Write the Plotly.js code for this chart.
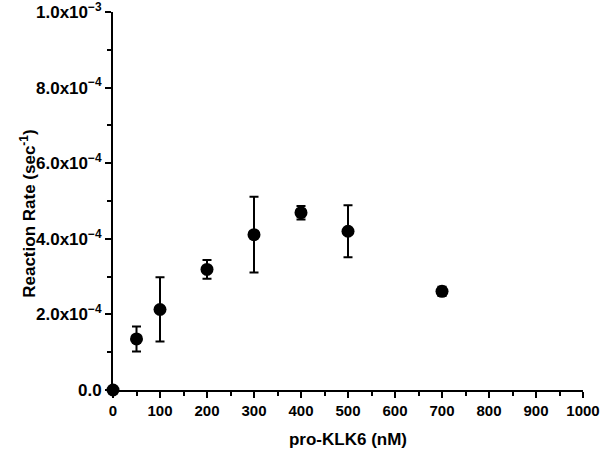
<!DOCTYPE html>
<html>
<head>
<meta charset="utf-8">
<script src="https://cdn.plot.ly/plotly-3.0.1.min.js"></script>
<style>html,body{margin:0;padding:0;background:#fff;}#chart{width:600px;height:449px;}</style>
</head>
<body>
<div id="chart"></div>
<script>
var concentration = [0, 50, 100, 200, 300, 400, 500, 700];
var reactionRate = [0, 1.35e-4, 2.13e-4, 3.19e-4, 4.11e-4, 4.69e-4, 4.20e-4, 2.61e-4];
var rateError = [0, 0.33e-4, 0.85e-4, 0.25e-4, 1.0e-4, 0.18e-4, 0.69e-4, 0.12e-4];
var yTickVals = [0, 2e-4, 4e-4, 6e-4, 8e-4, 1e-3];
var yTickMantissa = ['0.0', '2.0', '4.0', '6.0', '8.0', '1.0'];
var yTickExponent = ['', '\u22124', '\u22124', '\u22124', '\u22124', '\u22123'];
var xTickVals = [0, 100, 200, 300, 400, 500, 600, 700, 800, 900, 1000];
var xTitle = 'pro-KLK6 (nM)';
var yTitle = 'Reaction Rate (sec<sup>-1</sup>)';

var yTickText = yTickMantissa.map(function (m, i) {
  return yTickExponent[i] ? m + 'x10<sup>' + yTickExponent[i] + '</sup>' : m;
});

var trace = {
  x: concentration,
  y: reactionRate,
  type: 'scatter',
  mode: 'markers',
  marker: {color: '#000', size: 13},
  error_y: {type: 'data', array: rateError, visible: true, color: '#000', thickness: 2, width: 4.5},
  cliponaxis: false,
  showlegend: false
};

var fontFam = 'Liberation Sans, Arial, sans-serif';
var layout = {
  width: 600, height: 449,
  margin: {l: 113, r: 17, t: 12, b: 59},
  paper_bgcolor: '#fff', plot_bgcolor: '#fff',
  font: {family: fontFam, color: '#000'},
  xaxis: {
    range: [0, 1000],
    tickvals: xTickVals,
    ticks: 'outside', ticklen: 6, tickwidth: 2, tickcolor: '#000',
    minor: {dtick: 50, ticks: 'outside', ticklen: 4, tickwidth: 2, tickcolor: '#000'},
    showline: true, linecolor: '#000', linewidth: 2,
    showgrid: false, zeroline: false,
    ticklabeloverflow: 'allow',
    tickfont: {family: fontFam, size: 15, color: '#000', weight: 'bold'},
    title: {text: '<b>' + xTitle + '</b>', font: {family: fontFam, size: 17, color: '#000'}, standoff: 16}
  },
  yaxis: {
    range: [0, 1e-3],
    tickvals: yTickVals, ticktext: yTickText,
    ticks: 'outside', ticklen: 6, tickwidth: 2, tickcolor: '#000',
    minor: {dtick: 1e-4, ticks: 'outside', ticklen: 4, tickwidth: 2, tickcolor: '#000'},
    showline: true, linecolor: '#000', linewidth: 2,
    showgrid: false, zeroline: false,
    ticklabeloverflow: 'allow',
    tickfont: {family: fontFam, size: 17, color: '#000', weight: 'bold'}
  },
  annotations: [{
    text: '<b>' + yTitle + '</b>',
    xref: 'paper', yref: 'paper',
    x: -0.181, y: 0.466,
    xanchor: 'center', yanchor: 'middle',
    textangle: -90, showarrow: false,
    font: {family: fontFam, size: 17, color: '#000'}
  }]
};

Plotly.newPlot('chart', [trace], layout, {staticPlot: true, displayModeBar: false});
</script>
</body>
</html>
